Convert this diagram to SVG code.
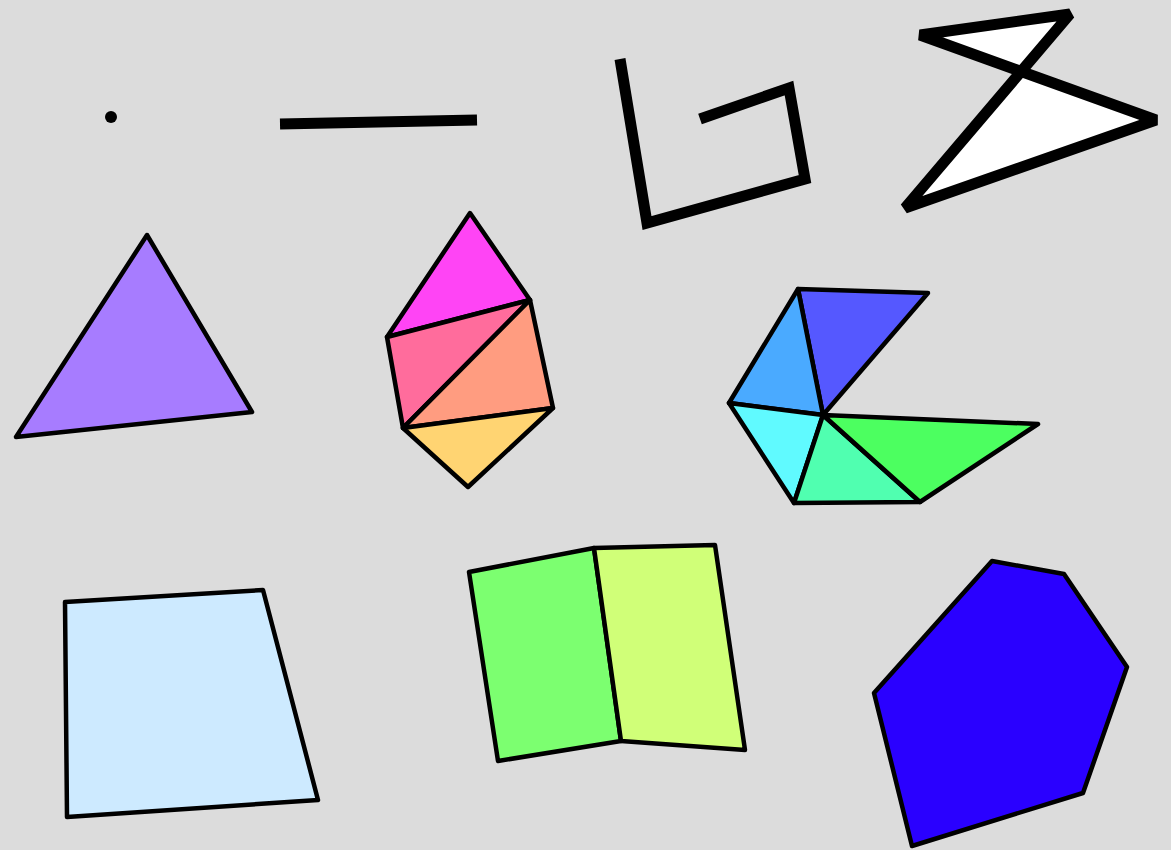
<svg xmlns="http://www.w3.org/2000/svg" width="1171" height="850" viewBox="0 0 1171 850">
<style>
.t{stroke:#000;stroke-width:4.5;stroke-linejoin:round}
.h{stroke:#000;stroke-width:11;fill:none;stroke-linejoin:miter}
</style>
<rect width="1171" height="850" fill="#dcdcdc"/>
<g id="point"><circle cx="111" cy="117" r="6" fill="#000"/></g>
<g id="line"><line class="h" x1="280" y1="124" x2="477" y2="120"/></g>
<g id="spiral"><polyline class="h" points="620,59 647,223 805,179 789,88 700,119"/></g>
<g id="bowtie"><polygon class="h" style="fill:#fff;stroke-linejoin:bevel" points="920,35 1070,14 905,208 1156,120"/></g>
<g id="purple-triangle"><polygon class="t" fill="#a77cff" points="147,235 252,412 16,437"/></g>
<g id="pink-shape">
<polygon class="t" fill="#ff44f5" points="470,213 530,300 387,337"/>
<polygon class="t" fill="#ff6c9c" points="387,337 530,300 403,428"/>
<polygon class="t" fill="#ff9c80" points="530,300 553,408 403,428"/>
<polygon class="t" fill="#ffd472" points="403,428 553,408 468,487"/>
</g>
<g id="fan">
<polygon class="t" fill="#5558ff" points="798,289 928,293 823,415"/>
<polygon class="t" fill="#4aaaff" points="798,289 823,415 729,403"/>
<polygon class="t" fill="#60faff" points="729,403 823,415 794,503"/>
<polygon class="t" fill="#50ffb0" points="823,415 794,503 920,502"/>
<polygon class="t" fill="#4cff60" points="823,415 920,502 1038,424"/>
</g>
<g id="quad"><polygon class="t" fill="#cdeaff" points="65,602 263,590 318,800 67,817"/></g>
<g id="panels">
<polygon class="t" fill="#7cff70" points="469,572 594,548 621,741 498,761"/>
<polygon class="t" fill="#d0ff78" points="594,548 715,545 745,750 621,741"/>
</g>
<g id="blue-poly"><polygon class="t" fill="#2a00ff" points="992,561 1064,574 1127,667 1083,793 912,846 874,693"/></g>
</svg>
